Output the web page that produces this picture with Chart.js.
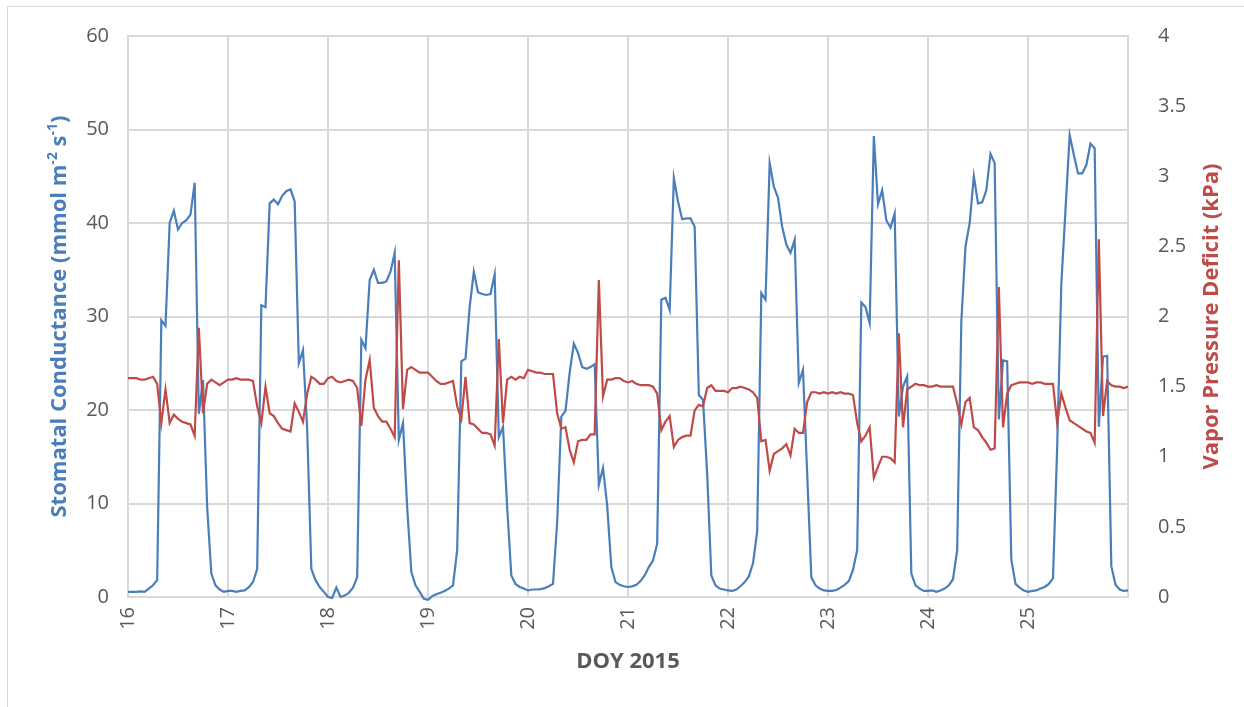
<!DOCTYPE html>
<html>
<head>
<meta charset="utf-8">
<title>Stomatal conductance and VPD, DOY 16-25 2015</title>
<script src="https://cdn.jsdelivr.net/npm/chart.js@4.4.1/dist/chart.umd.min.js"></script>
<style>
  html, body { margin: 0; padding: 0; background: #fff; }
  #wrap { position: relative; width: 1244px; height: 707px; overflow: hidden; }
  #frame { position: absolute; left: 7px; top: 6px; width: 1300px; height: 760px; border: 1px solid #d9d9d9; }
  #chart { position: absolute; left: 0; top: 0; }
</style>
</head>
<body>
<div id="wrap">
  <div id="frame"></div>
  <canvas id="chart" width="1244" height="707"></canvas>
</div>
<script>
// hourly readings, one row per day (DOY 16 .. 25) plus the first hour of DOY 26
const stomatalCond = [
  0.55,0.55,0.55,0.6,0.55,0.9,1.25,1.8,29.6,29.0,40.0,41.3,39.3,40.0,40.3,40.9,44.3,19.6,23.2,9.6,2.5,1.25,0.8,0.55,
  0.65,0.65,0.55,0.65,0.7,1.05,1.6,3.0,31.2,31.0,42.1,42.5,42.0,42.9,43.4,43.6,42.3,25.0,26.4,18.0,3.0,1.8,1.07,0.55,
  0.0,-0.1,1.0,0.0,0.15,0.45,1.0,2.1,27.5,26.6,33.9,35.0,33.6,33.6,33.75,34.8,36.8,16.8,18.6,9.6,2.7,1.25,0.55,-0.2,
  -0.3,0.1,0.3,0.45,0.65,0.9,1.25,5.0,25.2,25.5,31.0,34.8,32.6,32.4,32.3,32.4,34.5,17.1,18.2,9.6,2.3,1.4,1.07,0.9,
  0.7,0.8,0.8,0.85,0.95,1.15,1.4,8.0,19.3,19.9,24.0,27.1,26.1,24.6,24.4,24.6,24.9,12.0,13.8,9.8,3.2,1.6,1.3,1.15,
  1.07,1.14,1.3,1.7,2.3,3.2,3.9,5.7,31.8,32.0,30.7,44.8,42.3,40.4,40.5,40.5,39.6,21.6,21.1,13.2,2.3,1.25,0.9,0.8,
  0.7,0.65,0.8,1.15,1.6,2.2,3.6,7.0,32.5,31.8,46.4,43.9,42.7,39.6,37.7,36.8,38.2,22.9,24.3,13.2,2.1,1.25,0.9,0.7,
  0.65,0.65,0.75,1.0,1.3,1.7,2.9,5.0,31.5,31.0,29.3,49.3,42.0,43.5,40.3,39.5,41.0,19.3,22.5,23.6,2.5,1.25,0.9,0.65,
  0.65,0.7,0.55,0.7,0.9,1.25,1.9,5.0,29.5,37.5,40.0,45.0,42.1,42.2,43.5,47.4,46.4,19.0,25.3,25.2,4.0,1.4,1.0,0.7,
  0.55,0.65,0.7,0.9,1.07,1.4,2.0,16.0,33.5,41.4,49.4,47.3,45.3,45.3,46.2,48.5,48.0,18.2,25.7,25.8,3.3,1.3,0.8,0.65,
  0.7
];

const vpd = [
  1.56,1.56,1.56,1.55,1.55,1.56,1.57,1.52,1.24,1.48,1.24,1.30,1.27,1.25,1.24,1.23,1.15,1.92,1.31,1.52,1.55,1.53,1.51,1.53,
  1.55,1.55,1.56,1.55,1.55,1.55,1.54,1.36,1.24,1.50,1.31,1.29,1.24,1.20,1.19,1.18,1.38,1.32,1.25,1.45,1.57,1.55,1.52,1.52,
  1.56,1.57,1.54,1.53,1.54,1.55,1.54,1.49,1.22,1.55,1.69,1.35,1.29,1.25,1.25,1.20,1.14,2.40,1.34,1.62,1.64,1.62,1.60,1.60,
  1.60,1.57,1.54,1.52,1.52,1.53,1.54,1.36,1.27,1.57,1.24,1.23,1.20,1.17,1.17,1.16,1.08,1.84,1.24,1.55,1.57,1.55,1.57,1.56,
  1.62,1.61,1.60,1.60,1.59,1.59,1.59,1.31,1.20,1.21,1.05,0.96,1.11,1.12,1.12,1.16,1.16,2.26,1.43,1.55,1.55,1.56,1.56,1.54,
  1.53,1.54,1.52,1.51,1.51,1.51,1.50,1.45,1.19,1.25,1.29,1.07,1.12,1.14,1.15,1.15,1.33,1.37,1.36,1.49,1.51,1.47,1.47,1.47,
  1.46,1.49,1.49,1.50,1.49,1.48,1.46,1.42,1.11,1.12,0.90,1.02,1.04,1.06,1.09,1.01,1.20,1.17,1.17,1.39,1.46,1.46,1.45,1.46,
  1.45,1.46,1.45,1.46,1.45,1.45,1.44,1.24,1.11,1.15,1.21,0.85,0.93,1.00,1.00,0.99,0.96,1.88,1.21,1.48,1.50,1.52,1.51,1.51,
  1.50,1.50,1.51,1.50,1.50,1.50,1.50,1.38,1.23,1.39,1.42,1.21,1.19,1.14,1.10,1.05,1.06,2.21,1.21,1.45,1.51,1.52,1.53,1.53,
  1.53,1.52,1.53,1.53,1.52,1.52,1.52,1.24,1.45,1.35,1.26,1.24,1.22,1.20,1.18,1.17,1.10,2.55,1.29,1.54,1.51,1.50,1.50,1.49,
  1.50
];

const firstDay = 16;
const dayLabels = [16, 17, 18, 19, 20, 21, 22, 23, 24, 25];
const gsTicks = [0, 10, 20, 30, 40, 50, 60];
const vpdTicks = [0, 0.5, 1, 1.5, 2, 2.5, 3, 3.5, 4];

// time of each reading as fractional day of year
const doy = stomatalCond.map((_, i) => firstDay + i / 24);

const FONT = '"Open Sans", "Liberation Sans", sans-serif';
const GRID = '#d9d9d9';
const TEXT = '#595959';
const BLUE = '#4a7ebb';
const RED = '#be4b48';

// draws a run of text pieces, some raised as superscripts, centred on (x, y)
function drawRichText(ctx, x, y, rotation, parts, color, size) {
  ctx.save();
  ctx.translate(x, y);
  ctx.rotate(rotation);
  ctx.fillStyle = color;
  ctx.textBaseline = 'middle';
  ctx.textAlign = 'left';
  const fontFor = sup => `bold ${sup ? Math.round(size * 0.62) : size}px ${FONT}`;
  let total = 0;
  parts.forEach(([txt, sup]) => { ctx.font = fontFor(sup); total += ctx.measureText(txt).width; });
  let pos = -total / 2;
  parts.forEach(([txt, sup]) => {
    ctx.font = fontFor(sup);
    ctx.fillText(txt, pos, sup ? -size * 0.32 : 0);
    pos += ctx.measureText(txt).width;
  });
  ctx.restore();
}

// axis titles, drawn by hand so the units can carry superscripts
const axisTitles = {
  id: 'axisTitles',
  afterDraw(chart) {
    const { ctx, chartArea: a } = chart;
    const midY = (a.top + a.bottom) / 2;
    const midX = (a.left + a.right) / 2;
    drawRichText(ctx, 60, midY, -Math.PI / 2, [
      ['Stomatal Conductance (mmol m', false], ['-2', true], [' s', false], ['-1', true], [')', false]
    ], BLUE, 22);
    drawRichText(ctx, 1212, midY, -Math.PI / 2, [['Vapor Pressure Deficit (kPa)', false]], RED, 22);
    drawRichText(ctx, midX, 662, 0, [['DOY 2015', false]], TEXT, 22);
  }
};

const tickFont = { family: FONT, size: 20 };
// invisible tick marks keep the labels away from the axis line
const hiddenTicks = len => ({ drawTicks: true, tickLength: len, tickColor: 'rgba(0,0,0,0)' });

new Chart(document.getElementById('chart'), {
  type: 'line',
  data: {
    datasets: [
      {
        label: 'Vapor Pressure Deficit (kPa)',
        data: doy.map((x, i) => ({ x, y: vpd[i] })),
        yAxisID: 'yVpd',
        borderColor: RED,
        borderWidth: 2.2,
        pointRadius: 0,
        tension: 0,
        clip: 6,
        order: 0
      },
      {
        label: 'Stomatal Conductance',
        data: doy.map((x, i) => ({ x, y: stomatalCond[i] })),
        yAxisID: 'yGs',
        borderColor: BLUE,
        borderWidth: 2.2,
        pointRadius: 0,
        tension: 0,
        clip: 6,
        order: 1
      }
    ]
  },
  options: {
    responsive: false,
    animation: false,
    layout: { padding: { top: 36, left: 0, right: 0, bottom: 0 } },
    plugins: { legend: { display: false }, tooltip: { enabled: false } },
    scales: {
      x: {
        type: 'linear',
        min: firstDay,
        max: firstDay + dayLabels.length,
        afterFit: s => { s.height = 110; },
        ticks: {
          stepSize: 1,
          minRotation: 90,
          maxRotation: 90,
          padding: 10,
          color: TEXT,
          font: tickFont,
          callback: v => dayLabels.includes(v) ? String(v) : ''
        },
        grid: { color: GRID, lineWidth: 2, drawTicks: false },
        border: { color: GRID, width: 2 }
      },
      yGs: {
        position: 'left',
        min: gsTicks[0],
        max: gsTicks[gsTicks.length - 1],
        afterFit: s => { s.width = 128; },
        afterBuildTicks: s => { s.ticks = gsTicks.map(v => ({ value: v })); },
        ticks: { padding: 2, color: TEXT, font: tickFont },
        grid: { color: GRID, lineWidth: 2, ...hiddenTicks(17) },
        border: { color: GRID, width: 2 }
      },
      yVpd: {
        position: 'right',
        min: vpdTicks[0],
        max: vpdTicks[vpdTicks.length - 1],
        afterFit: s => { s.width = 116; },
        afterBuildTicks: s => { s.ticks = vpdTicks.map(v => ({ value: v })); },
        ticks: { padding: 2, color: TEXT, font: tickFont, callback: v => String(v) },
        grid: { drawOnChartArea: false, ...hiddenTicks(28) },
        border: { color: GRID, width: 2 }
      }
    }
  },
  plugins: [axisTitles]
});
</script>
</body>
</html>
